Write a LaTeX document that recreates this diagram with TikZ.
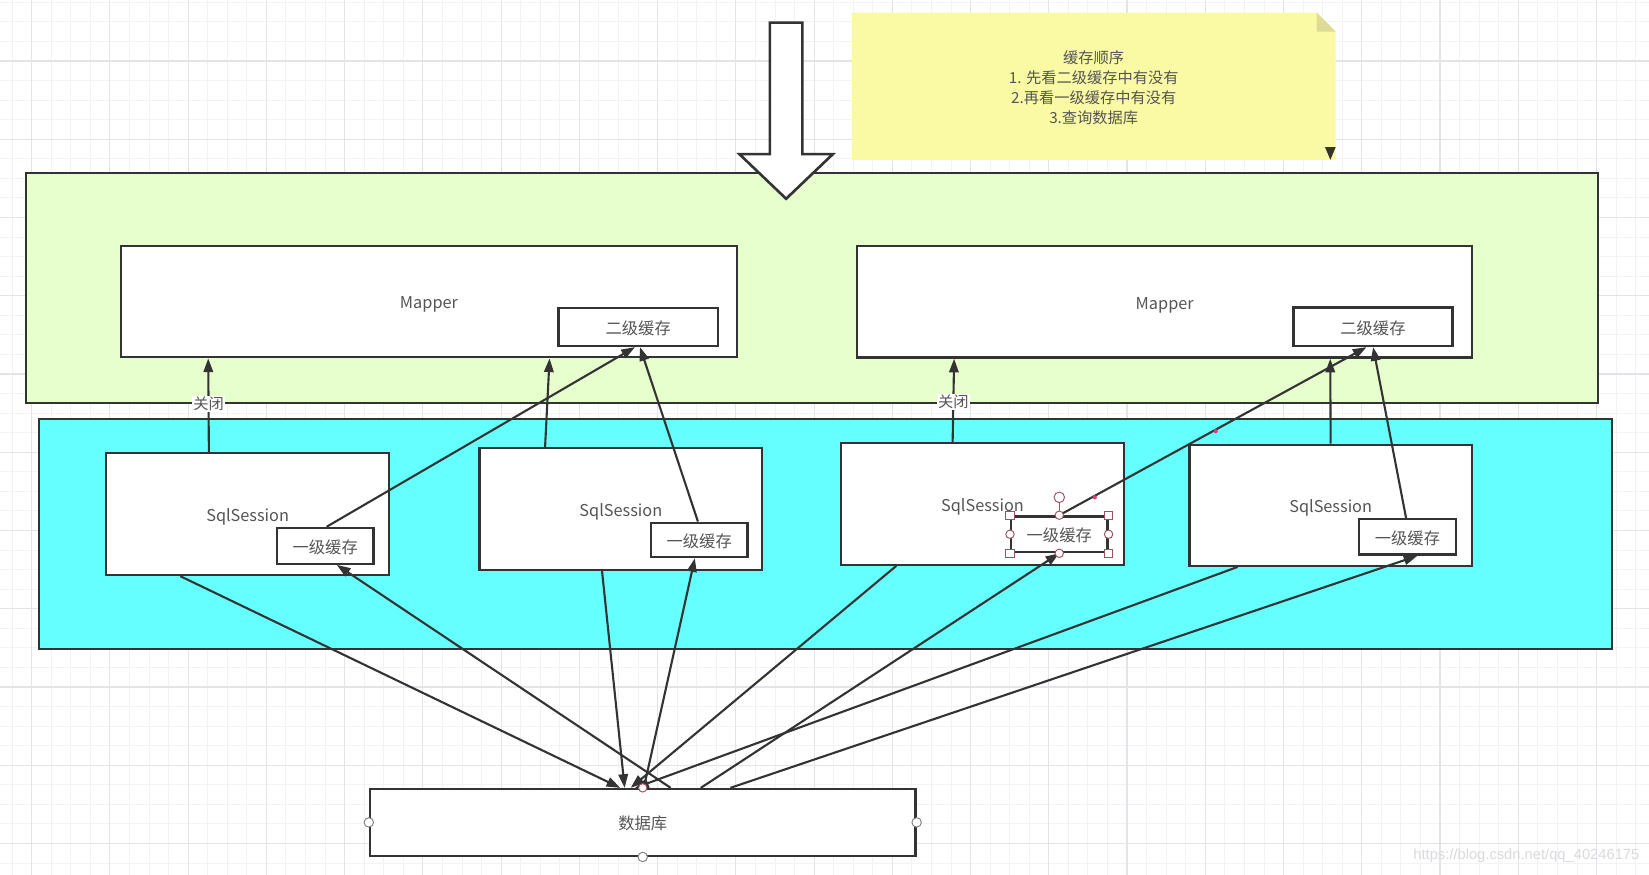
\documentclass[tikz,border=0pt]{standalone}
\usepackage{fontspec}
\setmainfont{Noto Sans CJK SC}
\newfontfamily\wmfont{Liberation Sans}
\usetikzlibrary{arrows.meta,calc}
\definecolor{gridmin}{RGB}{243,243,246}
\definecolor{gridmaj}{RGB}{228,228,232}
\definecolor{greenbg}{RGB}{230,255,204}
\definecolor{cyanbg}{RGB}{102,255,255}
\definecolor{notebg}{RGB}{250,250,165}
\definecolor{notefold}{RGB}{220,220,150}
\definecolor{edge}{RGB}{51,51,51}
\definecolor{txt}{RGB}{85,85,85}
\definecolor{handlec}{RGB}{160,80,95}
\definecolor{wmc}{RGB}{218,218,222}
\definecolor{pinkdot}{RGB}{220,60,120}
\tikzset{
  container/.style={draw=edge, line width=2.2pt, rectangle, inner sep=0pt},
  box/.style={draw=edge, line width=2.2pt, fill=white, rectangle, inner sep=0pt, text=txt, font=\fontsize{15.5}{18}\selectfont, text height=17pt, text depth=3pt},
  conn/.style={draw=edge, line width=2pt, -{Triangle[length=13pt,width=9pt]}},
  lbl/.style={fill=white, inner sep=1pt, text=txt, font=\fontsize{14.5}{16}\selectfont},
  gridminor/.style={draw=gridmin, line width=0.9pt},
  gridmajor/.style={draw=gridmaj, line width=1.1pt},
  hsq/.style={draw=handlec, fill=white, line width=0.9pt},
}
\begin{document}
\begin{tikzpicture}[x=1pt,y=-1pt]
\useasboundingbox (0,0) rectangle (1568,832);
\fill[white] (0,0) rectangle (1568,832);
% grid
\foreach \i in {-2,...,84} {\draw[gridminor] ({30.1+\i*18.6},0) -- ++(0,832);}
\foreach \i in {-4,...,44} {\draw[gridminor] (0,{58+\i*18.6}) -- ++(1568,0);}
\foreach \i in {0,...,20} {\draw[gridmajor] ({30.1+\i*74.4},0) -- ++(0,832);}
\foreach \i in {-1,...,11} {\draw[gridmajor] (0,{58+\i*74.4}) -- ++(1568,0);}

% note
\fill[notebg] (810,12) -- (1252,12) -- (1270,30) -- (1270,152) -- (810,152) -- cycle;
\fill[notefold] (1252,12) -- (1252,30) -- (1270,30) -- cycle;
\fill[edge] (1260,140) -- (1270,140) -- (1265,152) -- cycle;
\node[align=center, text=txt, font=\fontsize{14.5}{19}\selectfont] (nt) at (1040,83)
  {缓存顺序\\1. 先看二级缓存中有没有\\2.再看一级缓存中有没有\\3.查询数据库};

% containers
\node[container, fill=greenbg, minimum width=1495.2pt, minimum height=218.7pt] (grn) at (772,274.15) {};
\node[container, fill=cyanbg, minimum width=1495.6pt, minimum height=218.8pt] (cyn) at (785.2,507.9) {};

% mappers
\node[box, minimum width=585.8pt, minimum height=106.1pt] (m1) at (407.9,286.65) {Mapper};
\node[box, minimum width=585pt, minimum height=106pt] (m2) at (1107.5,287) {Mapper};
\node[box, minimum width=151.7pt, minimum height=36.1pt] (e1) at (606.85,310.95) {二级缓存};
\node[box, minimum width=151pt, minimum height=36.5pt] (e2) at (1305.5,310.75) {二级缓存};

% sessions
\node[box, minimum width=269pt, minimum height=115.8pt] (s1) at (235.5,488.9) {SqlSession};
\node[box, minimum width=268.7pt, minimum height=115.7pt] (s2) at (590.35,484.15) {SqlSession};
\node[box, minimum width=268.5pt, minimum height=115.5pt] (s3) at (934.25,479.25) {SqlSession};
\node[box, minimum width=268.6pt, minimum height=115pt] (s4) at (1265.3,480.5) {SqlSession};
\node[box, minimum width=91.5pt, minimum height=34pt] (c1) at (309.25,519) {一级缓存};
\node[box, minimum width=91.7pt, minimum height=32.7pt] (c2) at (664.85,513.35) {一级缓存};
\node[box, minimum width=91.5pt, minimum height=34pt] (c3) at (1007.25,508) {一级缓存};
\node[box, minimum width=92.6pt, minimum height=33.9pt] (c4) at (1338.3,510.45) {一级缓存};

% database
\node[box, minimum width=518.7pt, minimum height=63.5pt] (db) at (611.15,782) {数据库};

% big arrow
\draw[draw=edge, line width=2.5pt, fill=white, line join=miter]
  (732,21.5) -- (763,21.5) -- (763,146.5) -- (792,146.5) -- (747.5,189) -- (703,146.5) -- (732,146.5) -- cycle;

% upper connectors
\draw[conn] ($(s1.north west)!0.364!(s1.north east)$) -- node[lbl,pos=0.516]{关闭} ($(m1.south west)!0.143!(m1.south east)$);
\draw[conn] ($(c1.north west)!0.514!(c1.north east)$) -- ($(e1.south west)!0.48!(e1.south east)$);
\draw[conn] ($(s2.north west)!0.234!(s2.north east)$) -- ($(m1.south west)!0.695!(m1.south east)$);
\draw[conn] ($(c2.north west)!0.487!(c2.north east)$) -- ($(e1.south west)!0.511!(e1.south east)$);
\draw[conn] ($(s3.north west)!0.395!(s3.north east)$) -- node[lbl,pos=0.485]{关闭} ($(m2.south west)!0.159!(m2.south east)$);
\draw[conn] (c3.north) -- ($(e2.south west)!0.46!(e2.south east)$);
\draw[conn] (s4.north) -- ($(m2.south west)!0.768!(m2.south east)$);
\draw[conn] ($(c4.north west)!0.486!(c4.north east)$) -- ($(e2.south west)!0.501!(e2.south east)$);

% lower connectors
\draw[conn] ($(s1.south west)!0.264!(s1.south east)$) -- ($(db.north west)!0.459!(db.north east)$);
\draw[conn] ($(db.north west)!0.551!(db.north east)$) -- ($(c1.south west)!0.617!(c1.south east)$);
\draw[conn] ($(s2.south west)!0.434!(s2.south east)$) -- ($(db.north west)!0.467!(db.north east)$);
\draw[conn] ($(db.north west)!0.502!(db.north east)$) -- ($(c2.south west)!0.456!(c2.south east)$);
\draw[conn] ($(s3.south west)!0.197!(s3.south east)$) -- ($(db.north west)!0.478!(db.north east)$);
\draw[conn] ($(db.north west)!0.606!(db.north east)$) -- (c3.south);
\draw[conn] ($(s4.south west)!0.173!(s4.south east)$) -- ($(db.north west)!0.486!(db.north east)$);
\draw[conn] ($(db.north west)!0.66!(db.north east)$) -- ($(c4.south west)!0.6!(c4.south east)$);

% editor marks
\fill[pinkdot] (1041,472.9) circle (2pt);
\fill[pinkdot] (1156,410) circle (2pt);
\draw[handlec, line width=0.9pt] ($(c3.north)+(0,-12)$) -- (c3.north);
\draw[hsq] ($(c3.north)+(0,-17)$) circle (5pt);
\foreach \a in {north west,north east,south west,south east} {
  \draw[hsq] ($(c3.\a)+(-4,-4)$) rectangle ($(c3.\a)+(4,4)$);
}
\foreach \a in {north,south,west,east} {
  \draw[hsq] (c3.\a) circle (4pt);
}
\foreach \a in {west,east,south} {
  \draw[draw=gray, fill=white, line width=0.9pt] (db.\a) circle (4.5pt);
}
\draw[hsq] (db.north) circle (4pt);

% watermark
\node[font=\wmfont\fontsize{14}{14}\selectfont, text=wmc, anchor=east, inner sep=0pt] (wm) at (1559,814) {https://blog.csdn.net/qq\_40246175};
\end{tikzpicture}
\end{document}
